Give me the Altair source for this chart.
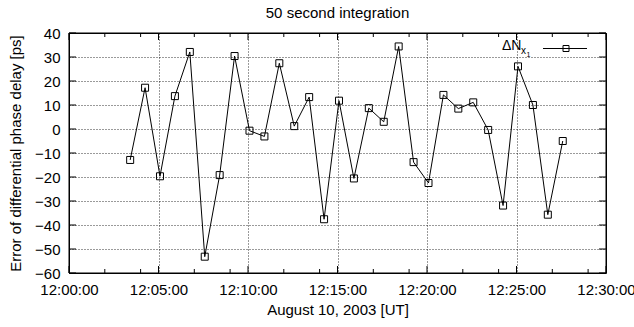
import altair as alt
import pandas as pd

# ---- data ----
times = [
    "12:03:25", "12:04:15", "12:05:05", "12:05:55", "12:06:45", "12:07:35",
    "12:08:25", "12:09:15", "12:10:05", "12:10:55", "12:11:45", "12:12:35",
    "12:13:25", "12:14:15", "12:15:05", "12:15:55", "12:16:45", "12:17:35",
    "12:18:25", "12:19:15", "12:20:05", "12:20:55", "12:21:45", "12:22:35",
    "12:23:25", "12:24:15", "12:25:05", "12:25:55", "12:26:45", "12:27:35",
]
delay = [
    -12.9, 17.2, -19.7, 13.7, 32.1, -53.2,
    -19.2, 30.4, -0.7, -3.1, 27.4, 1.2,
    13.3, -37.6, 11.8, -20.6, 8.7, 3.0,
    34.4, -13.8, -22.5, 14.2, 8.5, 11.1,
    -0.4, -31.9, 26.1, 10.0, -35.7, -5.0,
]
major_x = ["12:00:00", "12:05:00", "12:10:00", "12:15:00", "12:20:00", "12:25:00", "12:30:00"]
minor_x = ["12:02:00", "12:04:00", "12:07:00", "12:09:00", "12:12:00", "12:14:00",
           "12:17:00", "12:19:00", "12:22:00", "12:24:00", "12:27:00", "12:29:00"]
y_ticks = [-60, -50, -40, -30, -20, -10, 0, 10, 20, 30, 40]
title_text = "50 second integration"

DAY = "2003-08-10T"
FONT = "Liberation Sans"
W, H = 537, 240


def iso(t):
    return DAY + t + "Z"


def dt(t):
    h, m, s = (int(v) for v in t.split(":"))
    return alt.DateTime(year=2003, month=8, date=10, hours=h, minutes=m, seconds=s, utc=True)


df = pd.DataFrame({"t": [iso(t) for t in times], "v": delay})
df_major = pd.DataFrame({"t": [iso(t) for t in major_x]})
df_minor = pd.DataFrame({"t": [iso(t) for t in minor_x]})
df_y = pd.DataFrame({"v": y_ticks})
one = pd.DataFrame({"a": [0]})

xscale = alt.Scale(type="utc", domain=[dt("12:00:00"), dt("12:30:00")], nice=False)
yscale = alt.Scale(domain=[-60, 40], nice=False, zero=False)

xaxis = alt.Axis(
    values=[dt(t) for t in major_x],
    labelExpr="utcFormat(datum.value, '%H:%M:%S')",
    title="August 10, 2003 [UT]", titleFont=FONT, titleFontSize=15, titleFontWeight="normal",
    titleColor="black", titleY=41, titleBaseline="alphabetic",
    labelFont=FONT, labelFontSize=15, labelColor="black", labelPadding=9,
    labelOverlap=False, labelFlush=False,
    ticks=False, domain=False, grid=True, gridColor="black", gridDash=[1, 2], gridWidth=0.8,
)
yaxis = alt.Axis(
    values=y_ticks, title="Error of differential phase delay [ps]",
    titleFont=FONT, titleFontSize=15, titleFontWeight="normal", titleColor="black",
    titleX=-54, titleY=H / 2, titleAngle=-90, titleAlign="center", titleBaseline="middle",
    labelFont=FONT, labelFontSize=15, labelColor="black", labelPadding=9,
    labelOverlap=False, labelFlush=False,
    ticks=False, domain=False, grid=True, gridColor="black", gridDash=[1, 2], gridWidth=0.8,
)

xs = alt.X("t:T", scale=xscale, axis=xaxis)
ys = alt.Y("v:Q", scale=yscale, axis=yaxis)

base = alt.Chart(df).encode(x=xs, y=ys)
line = base.mark_line(color="black", strokeWidth=1)
pts = base.mark_point(shape="square", size=49, color="black", filled=False, strokeWidth=1, opacity=1)

tick_style = dict(color="black", strokeWidth=1)

maj_bot = alt.Chart(df_major).mark_rule(**tick_style).encode(x=xs, y=alt.value(H), y2=alt.value(H - 7))
maj_top = alt.Chart(df_major).mark_rule(**tick_style).encode(x=xs, y=alt.value(0), y2=alt.value(7))
min_bot = alt.Chart(df_minor).mark_rule(**tick_style).encode(x=xs, y=alt.value(H), y2=alt.value(H - 4))
min_top = alt.Chart(df_minor).mark_rule(**tick_style).encode(x=xs, y=alt.value(0), y2=alt.value(4))
y_left = alt.Chart(df_y).mark_rule(**tick_style).encode(y=ys, x=alt.value(0), x2=alt.value(7))
y_right = alt.Chart(df_y).mark_rule(**tick_style).encode(y=ys, x=alt.value(W - 7), x2=alt.value(W))

# plot frame
frame = alt.Chart(one).mark_rect(fill=None, stroke="black", strokeWidth=1).encode(
    x=alt.value(0), x2=alt.value(W), y=alt.value(0), y2=alt.value(H))

# title above the plot
title = alt.Chart(one).mark_text(text=title_text, font=FONT, fontSize=15, align="center",
                                 baseline="alphabetic", color="black").encode(
    x=alt.value(W / 2), y=alt.value(-15))

# legend (inside top-right)
leg_txt = alt.Chart(one).mark_text(text="ΔN", font=FONT, fontSize=14, align="left",
                                   baseline="alphabetic", color="black").encode(
    x=alt.value(433), y=alt.value(17))
leg_sub = alt.Chart(one).mark_text(text="x", font=FONT, fontSize=10, align="left",
                                   baseline="alphabetic", color="black").encode(
    x=alt.value(452), y=alt.value(21))
leg_sub2 = alt.Chart(one).mark_text(text="1", font=FONT, fontSize=7, align="left",
                                    baseline="alphabetic", color="black").encode(
    x=alt.value(457.5), y=alt.value(24))
leg_line = alt.Chart(one).mark_rule(color="black", strokeWidth=1).encode(
    x=alt.value(474), x2=alt.value(518), y=alt.value(15.5))
leg_pt = alt.Chart(one).mark_point(shape="square", size=36, color="black", filled=False,
                                   strokeWidth=1, opacity=1).encode(
    x=alt.value(497), y=alt.value(15.5))

chart = alt.layer(
    line, pts, maj_bot, maj_top, min_bot, min_top, y_left, y_right, frame, title,
    leg_txt, leg_sub, leg_sub2, leg_line, leg_pt,
).properties(
    width=W, height=H,
    autosize="none",
    background="white",
    padding={"left": 69, "top": 33, "right": 28, "bottom": 54},
).configure_view(stroke="black", strokeWidth=1)

chart.save("out.html", embed_options={"renderer": "svg", "actions": False})
